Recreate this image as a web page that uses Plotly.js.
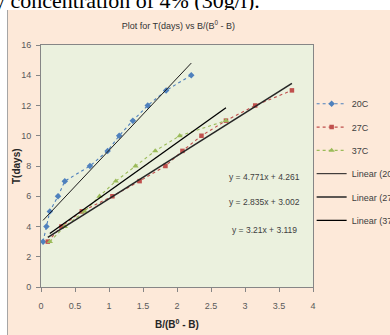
<!DOCTYPE html>
<html>
<head>
<meta charset="utf-8">
<script src="https://cdn.plot.ly/plotly-3.0.1.min.js"></script>
<style>
  html, body { margin: 0; padding: 0; background: #ffffff; overflow: hidden; }
  body { width: 390px; height: 335px; position: relative; }
  #caption {
    position: absolute; left: -6px; top: -10px; white-space: nowrap;
    font-family: "Liberation Serif", "DejaVu Serif", serif; font-size: 22px;
    line-height: 22px; color: #000;
  }
  #frame {
    position: absolute; left: 7px; top: 10px; width: 382px; height: 325px;
    border-left: 1px solid #a6a6a6; background: #fde9d9;
  }
  #chart { width: 382px; height: 325px; }
</style>
</head>
<body>
<div id="caption">y concentration of 4% (30g/l).</div>
<div id="frame"><div id="chart"></div></div>
<script>
// Measured series: T (days) against B/(B0 - B) at three temperatures
const seriesNames = ["20C", "27C", "37C"];
const x20 = [0.03, 0.08, 0.13, 0.25, 0.35, 0.72, 0.98, 1.15, 1.35, 1.57, 1.84, 2.21];
const y20 = [3, 4, 5, 6, 7, 8, 9, 10, 11, 12, 13, 14];
const x27 = [0.10, 0.30, 0.60, 1.05, 1.45, 1.83, 2.08, 2.36, 2.72, 3.15, 3.69];
const y27 = [3, 4, 5, 6, 7, 8, 9, 10, 11, 12, 13];
const x37 = [0.13, 0.35, 0.64, 0.86, 1.10, 1.39, 1.68, 2.04, 2.72];
const y37 = [3, 4, 5, 6, 7, 8, 9, 10, 11];

// Linear fits (slope, intercept) as printed on the chart
const fitSlopes = [4.771, 2.835, 3.21];
const fitIntercepts = [4.261, 3.002, 3.119];
const fitLabels = ["y = 4.771x + 4.261", "y = 2.835x + 3.002", "y = 3.21x + 3.119"];
const fitNames = ["Linear (20 C)", "Linear (27 C)", "Linear (37 C)"];

const xTicks = [0, 0.5, 1, 1.5, 2, 2.5, 3, 3.5, 4];
const yTicks = [0, 2, 4, 6, 8, 10, 12, 14, 16];

const narrow = '"Liberation Sans Narrow", "Arial Narrow", "Liberation Sans", sans-serif';
const colors = ["#4f81bd", "#c0504d", "#9bbb59"];
const symbols = ["diamond", "square", "triangle-up"];
const markerSizes = [5, 4.5, 5.5];
const xs = [x20, x27, x37];
const ys = [y20, y27, y37];

const traces = [];
for (let i = 0; i < 3; i++) {
  traces.push({
    type: "scatter", mode: "lines+markers", name: seriesNames[i],
    legendgroup: "s" + i,
    x: xs[i], y: ys[i],
    line: { color: colors[i], width: 1.1, dash: "3px,3px" },
    marker: { color: colors[i], symbol: symbols[i], size: markerSizes[i] }
  });
}
// Trendlines span each series' own x range
const fitStyles = [
  { color: "#1a1a1a", width: 1 },
  { color: "#262626", width: 1.6 },
  { color: "#000000", width: 1.3 }
];
for (let i = 0; i < 3; i++) {
  const lo = Math.min(...xs[i]), hi = Math.max(...xs[i]);
  traces.push({
    type: "scatter", mode: "lines", name: fitNames[i],
    legendgroup: "f" + i,
    x: [lo, hi],
    y: [fitSlopes[i] * lo + fitIntercepts[i], fitSlopes[i] * hi + fitIntercepts[i]],
    line: fitStyles[i]
  });
}

const eqY = [7.28, 5.63, 3.76];
const annotations = fitLabels.map((t, i) => ({
  text: t, x: 3.28, y: eqY[i], xref: "x", yref: "y", showarrow: false,
  xanchor: "center", yanchor: "middle",
  font: { family: narrow, size: 8.5, color: "#404040" }
}));
annotations.push({
  text: "<b>B/(B<sup>0</sup> - B)</b>", x: 0.5, y: 0, xref: "paper", yref: "paper",
  showarrow: false, xanchor: "center", yanchor: "middle", yshift: -37,
  font: { family: narrow, size: 10, color: "#262626" }
});
annotations.push({
  text: "<b>T(days)</b>", x: 0, y: 0.5, xref: "paper", yref: "paper",
  showarrow: false, xanchor: "center", yanchor: "middle", xshift: -25, textangle: -90,
  font: { family: narrow, size: 10, color: "#262626" }
});

const axisCommon = {
  showgrid: false, zeroline: false, showline: true, mirror: true,
  linecolor: "#868686", linewidth: 1,
  ticks: "outside", ticklen: 4, tickcolor: "#868686", tickwidth: 1,
  tickfont: { family: narrow, size: 9, color: "#595959" },
  fixedrange: true
};

const layout = {
  width: 382, height: 325,
  margin: { l: 33, r: 77, t: 35, b: 48, autoexpand: false },
  paper_bgcolor: "#fde9d9", plot_bgcolor: "#ebf1de",
  title: {
    text: "Plot for T(days) vs B/(B<sup>0</sup> - B)",
    x: 0.505, xref: "paper", xanchor: "center", y: 0.951, yanchor: "middle",
    font: { family: narrow, size: 9, color: "#333333" }
  },
  xaxis: Object.assign({}, axisCommon, {
    range: [0, 4], tickvals: xTicks, ticktext: xTicks.map(String), ticklabelstandoff: 6
  }),
  yaxis: Object.assign({}, axisCommon, {
    range: [0, 16], tickvals: yTicks, ticktext: yTicks.map(String), ticklabelstandoff: 3
  }),
  showlegend: true,
  legend: {
    x: 0.995, xanchor: "left", y: 0.817, yanchor: "top",
    traceorder: "grouped", tracegroupgap: 4.3,
    bgcolor: "rgba(0,0,0,0)", borderwidth: 0,
    font: { family: narrow, size: 9, color: "#404040" }
  },
  annotations: annotations
};

Plotly.newPlot("chart", traces, layout, { displayModeBar: false, staticPlot: true });
</script>
</body>
</html>
